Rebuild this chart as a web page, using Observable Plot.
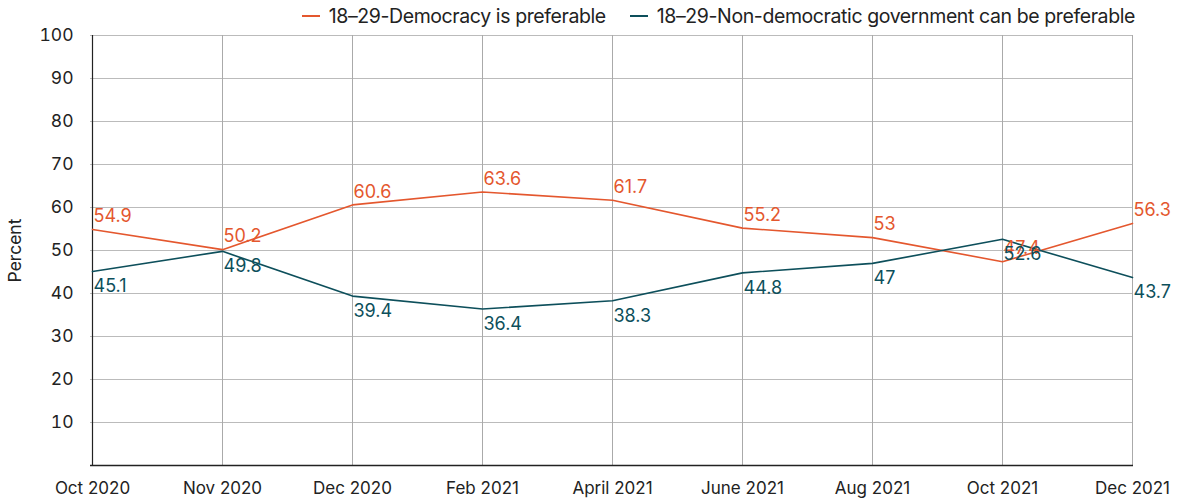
<!DOCTYPE html>
<html><head><meta charset="utf-8">
<script src="https://cdn.jsdelivr.net/npm/d3@7"></script>
<script src="https://cdn.jsdelivr.net/npm/@observablehq/plot@0.6"></script>
<style>
body{margin:0;background:#fff;font-family:Inter,"Noto Sans",sans-serif;}
#wrap{position:relative;width:1178px;height:501px;}
#legend{position:absolute;top:4px;right:43px;display:flex;gap:24px;font-size:19.5px;color:#222;letter-spacing:-0.4px;}
.item{display:flex;align-items:center;gap:9px;}
.sw{display:inline-block;width:18px;height:2px;}
</style></head><body>
<div id="wrap"><div id="legend"></div><div id="chart"></div></div>
<script>
const months = ["Oct 2020","Nov 2020","Dec 2020","Feb 2021","April 2021","June 2021","Aug 2021","Oct 2021","Dec 2021"];
const democracy = [54.9,50.2,60.6,63.6,61.7,55.2,53,47.4,56.3];
const nonDemocratic = [45.1,49.8,39.4,36.4,38.3,44.8,47,52.6,43.7];
const seriesNames = ["18–29-Democracy is preferable","18–29-Non-democratic government can be preferable"];
const colors = ["#e4572e","#0d4f5b"];
const yTicks = [10,20,30,40,50,60,70,80,90,100];

const rows = [];
months.forEach((m,i)=>{
  rows.push({month:m, value:democracy[i], series:seriesNames[0]});
  rows.push({month:m, value:nonDemocratic[i], series:seriesNames[1]});
});
const dem = rows.filter(d=>d.series===seriesNames[0]);
const non = rows.filter(d=>d.series===seriesNames[1]);

const leg = document.getElementById("legend");
seriesNames.forEach((s,i)=>{
  const it=document.createElement("div");it.className="item";
  it.innerHTML=`<span class="sw" style="background:${colors[i]}"></span><span>${s}</span>`;
  leg.appendChild(it);
});

const chart = Plot.plot({
  width:1178, height:501,
  marginTop:35, marginBottom:36, marginLeft:90, marginRight:45,
  style:{fontFamily:"Inter, 'Noto Sans', sans-serif", fontSize:"17px", color:"#222", background:"#fff"},
  x:{type:"point", domain:months, padding:0},
  y:{domain:[0,100]},
  color:{domain:seriesNames, range:colors},
  marks:[
    Plot.ruleY(yTicks,{stroke:"#bbb", strokeWidth:1}),
    Plot.ruleX(months,{stroke:"#aaa", strokeWidth:1}),
    Plot.axisY(yTicks,{tickSize:0, tickPadding:17, fontSize:17.5, label:"Percent", labelAnchor:"center", labelArrow:"none", labelOffset:82}),
    Plot.axisX({tickSize:0, tickPadding:16, fontSize:17, label:null}),
    Plot.ruleX([0],{x:()=>months[0], stroke:"#222", strokeWidth:1.2}),
    Plot.ruleY([0],{stroke:"#222", strokeWidth:1.5}),
    Plot.line(rows,{x:"month", y:"value", stroke:"series", strokeWidth:1.6}),
    Plot.text(dem,{x:"month", y:"value", text:d=>String(d.value), fill:colors[0], textAnchor:"start", dx:1, dy:-13, fontSize:18}),
    Plot.text(non,{x:"month", y:"value", text:d=>String(d.value), fill:colors[1], textAnchor:"start", dx:1, dy:15, fontSize:18})
  ]
});
document.getElementById("chart").appendChild(chart);
</script></body></html>
